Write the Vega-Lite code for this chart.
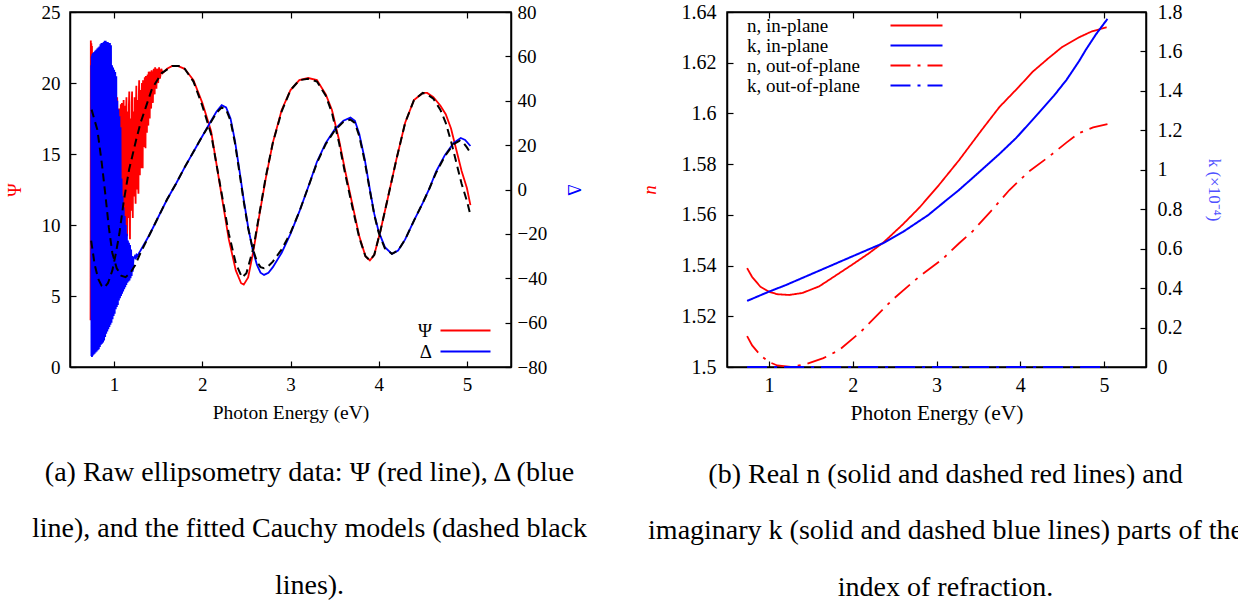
{
"$schema": "https://vega.github.io/schema/vega-lite/v6.json",
"padding": {"left": 5, "top": 1, "right": 0, "bottom": 0},
"bounds": "flush",
"spacing": 216,
"config": {
  "font": "Liberation Serif",
  "view": {"stroke": "black", "strokeWidth": 1.5},
  "axis": {"grid": false, "domainColor": "black", "domainWidth": 1.5, "tickColor": "black", "tickWidth": 1.2, "tickSize": -6, "labelColor": "black", "labelFont": "Liberation Serif", "titleFont": "Liberation Serif", "titleFontWeight": "normal", "titleColor": "black"},
  "legend": {"labelFont": "Liberation Serif", "labelColor": "black"},
  "title": {"font": "Liberation Serif", "fontWeight": "normal", "color": "black"}
},
"resolve": {"scale": {"color": "independent", "strokeDash": "independent"}, "legend": {"color": "independent", "strokeDash": "independent"}},
"datasets": {
"psi": [
{"E":0.733,"psi":3.3},{"E":0.736,"psi":23.0},{"E":0.739,"psi":4.2},{"E":0.742,"psi":22.8},{"E":0.745,"psi":5.0},{"E":0.749,"psi":22.6},{"E":0.754,"psi":6.0},{"E":0.76,"psi":22.0},{"E":0.78,"psi":7.0},{"E":0.80,"psi":21.5},{"E":0.83,"psi":6.5},{"E":0.86,"psi":20.5},{"E":0.89,"psi":7.5},{"E":0.92,"psi":20.0},{"E":0.95,"psi":8.0},{"E":0.98,"psi":19.5},{"E":1.01,"psi":8.5},{"E":1.035,"psi":19.0},{"E":1.05,"psi":8.8},
{"E":1.056,"psi":18.2},{"E":1.060,"psi":9.5},{"E":1.064,"psi":18.0},{"E":1.068,"psi":9.0},{"E":1.072,"psi":17.2},{"E":1.076,"psi":18.5},{"E":1.080,"psi":10.0},{"E":1.084,"psi":8.8},{"E":1.088,"psi":18.6},{"E":1.092,"psi":17.5},{"E":1.096,"psi":10.5},{"E":1.100,"psi":9.5},{"E":1.104,"psi":17.8},{"E":1.108,"psi":18.8},{"E":1.112,"psi":11.0},{"E":1.116,"psi":9.0},{"E":1.120,"psi":18.4},{"E":1.124,"psi":17.0},{"E":1.128,"psi":10.2},{"E":1.132,"psi":10.0},{"E":1.136,"psi":18.0},{"E":1.140,"psi":19.0},{"E":1.144,"psi":11.5},{"E":1.148,"psi":9.2},{"E":1.152,"psi":17.0},{"E":1.156,"psi":18.0},{"E":1.160,"psi":12.0},{"E":1.164,"psi":10.5},{"E":1.168,"psi":18.5},{"E":1.172,"psi":19.4},{"E":1.176,"psi":11.0},{"E":1.180,"psi":9.0},{"E":1.184,"psi":16.5},{"E":1.188,"psi":17.5},{"E":1.192,"psi":12.5},{"E":1.196,"psi":11.0},{"E":1.200,"psi":18.6},{"E":1.204,"psi":19.4},{"E":1.208,"psi":12.0},{"E":1.212,"psi":10.5},{"E":1.216,"psi":17.0},{"E":1.220,"psi":18.0},{"E":1.224,"psi":13.0},{"E":1.228,"psi":12.0},{"E":1.232,"psi":19.0},{"E":1.236,"psi":18.5},{"E":1.240,"psi":12.8},{"E":1.244,"psi":11.5},{"E":1.248,"psi":18.2},{"E":1.252,"psi":19.8},{"E":1.256,"psi":13.5},{"E":1.260,"psi":12.5},{"E":1.264,"psi":18.8},{"E":1.268,"psi":17.5},{"E":1.272,"psi":13.0},{"E":1.276,"psi":12.2},{"E":1.280,"psi":19.0},{"E":1.284,"psi":20.2},{"E":1.288,"psi":14.2},{"E":1.292,"psi":13.5},{"E":1.296,"psi":19.5},{"E":1.300,"psi":19.0},{"E":1.304,"psi":14.0},{"E":1.308,"psi":14.5},{"E":1.312,"psi":19.2},{"E":1.316,"psi":20.0},{"E":1.320,"psi":15.0},{"E":1.324,"psi":14.0},{"E":1.328,"psi":20.2},{"E":1.332,"psi":19.5},{"E":1.336,"psi":15.8},{"E":1.340,"psi":15.5},{"E":1.344,"psi":19.8},{"E":1.348,"psi":20.4},{"E":1.352,"psi":16.0},{"E":1.356,"psi":15.4},{"E":1.360,"psi":20.5},{"E":1.364,"psi":19.8},{"E":1.368,"psi":16.8},{"E":1.372,"psi":16.5},{"E":1.376,"psi":20.2},{"E":1.380,"psi":20.6},{"E":1.384,"psi":17.4},{"E":1.388,"psi":17.0},{"E":1.392,"psi":20.8},{"E":1.396,"psi":20.3},{"E":1.400,"psi":17.8},{"E":1.404,"psi":17.5},{"E":1.408,"psi":20.4},{"E":1.412,"psi":20.8},{"E":1.416,"psi":18.5},{"E":1.420,"psi":18.2},{"E":1.425,"psi":20.9},{"E":1.430,"psi":20.5},{"E":1.435,"psi":18.9},{"E":1.440,"psi":18.6},{"E":1.445,"psi":20.6},{"E":1.450,"psi":21.0},{"E":1.455,"psi":19.5},{"E":1.460,"psi":19.2},{"E":1.465,"psi":21.1},{"E":1.470,"psi":20.8},{"E":1.475,"psi":19.8},{"E":1.480,"psi":19.6},{"E":1.485,"psi":20.9},{"E":1.490,"psi":21.0},{"E":1.495,"psi":20.2},{"E":1.500,"psi":20.0},{"E":1.510,"psi":21.1},{"E":1.520,"psi":20.3},{"E":1.535,"psi":21.0},{"E":1.550,"psi":20.7},
{"E":1.60,"psi":21.0},{"E":1.66,"psi":21.2},{"E":1.72,"psi":21.2},{"E":1.80,"psi":21.0},{"E":1.90,"psi":20.2},{"E":2.00,"psi":18.6},{"E":2.10,"psi":16.6},{"E":2.20,"psi":12.8},{"E":2.30,"psi":9.0},{"E":2.38,"psi":6.8},{"E":2.44,"psi":5.9},{"E":2.47,"psi":5.8},{"E":2.52,"psi":6.3},{"E":2.58,"psi":8.2},{"E":2.65,"psi":10.8},{"E":2.72,"psi":13.3},{"E":2.80,"psi":15.8},{"E":2.90,"psi":18.1},{"E":3.00,"psi":19.5},{"E":3.10,"psi":20.2},{"E":3.20,"psi":20.35},{"E":3.30,"psi":20.2},{"E":3.40,"psi":19.2},{"E":3.47,"psi":18.1},{"E":3.55,"psi":16.0},{"E":3.62,"psi":13.8},{"E":3.70,"psi":11.5},{"E":3.78,"psi":9.2},{"E":3.85,"psi":7.8},{"E":3.90,"psi":7.5},{"E":3.95,"psi":7.9},{"E":4.02,"psi":9.6},{"E":4.10,"psi":11.8},{"E":4.20,"psi":14.6},{"E":4.30,"psi":17.2},{"E":4.40,"psi":18.8},{"E":4.50,"psi":19.3},{"E":4.55,"psi":19.3},{"E":4.62,"psi":19.0},{"E":4.70,"psi":18.4},{"E":4.76,"psi":17.8},{"E":4.82,"psi":16.8},{"E":4.88,"psi":15.3},{"E":4.94,"psi":13.8},{"E":5.00,"psi":12.6},{"E":5.04,"psi":11.4}
],
"psifit": [
{"E":0.74,"psi":8.9},{"E":0.78,"psi":7.2},{"E":0.82,"psi":6.2},{"E":0.86,"psi":5.7},{"E":0.89,"psi":5.6},{"E":0.93,"psi":5.9},{"E":0.98,"psi":6.8},{"E":1.02,"psi":8.0},{"E":1.06,"psi":9.4},{"E":1.11,"psi":11.7},{"E":1.17,"psi":13.9},{"E":1.25,"psi":16.0},{"E":1.30,"psi":17.2},{"E":1.36,"psi":18.3},{"E":1.43,"psi":19.6},{"E":1.54,"psi":20.7},{"E":1.66,"psi":21.2},{"E":1.75,"psi":21.2},{"E":1.80,"psi":21.0},{"E":1.90,"psi":20.1},{"E":2.00,"psi":18.4},{"E":2.10,"psi":16.4},{"E":2.20,"psi":12.9},{"E":2.30,"psi":9.4},{"E":2.38,"psi":7.3},{"E":2.45,"psi":6.3},{"E":2.50,"psi":6.6},{"E":2.58,"psi":8.4},{"E":2.65,"psi":10.9},{"E":2.72,"psi":13.4},{"E":2.80,"psi":15.8},{"E":2.90,"psi":18.0},{"E":3.00,"psi":19.5},{"E":3.10,"psi":20.2},{"E":3.20,"psi":20.3},{"E":3.30,"psi":20.1},{"E":3.40,"psi":19.1},{"E":3.47,"psi":17.9},{"E":3.55,"psi":15.8},{"E":3.62,"psi":13.6},{"E":3.70,"psi":11.3},{"E":3.78,"psi":9.1},{"E":3.85,"psi":7.8},{"E":3.90,"psi":7.5},{"E":3.95,"psi":7.9},{"E":4.02,"psi":9.6},{"E":4.10,"psi":11.8},{"E":4.20,"psi":14.6},{"E":4.30,"psi":17.2},{"E":4.40,"psi":18.8},{"E":4.50,"psi":19.3},{"E":4.55,"psi":19.2},{"E":4.62,"psi":18.9},{"E":4.70,"psi":18.1},{"E":4.76,"psi":17.2},{"E":4.82,"psi":15.9},{"E":4.88,"psi":14.4},{"E":4.94,"psi":12.9},{"E":5.00,"psi":11.7},{"E":5.04,"psi":10.7}
],
"delta": [
{"E":0.740,"delta":56},{"E":0.743,"delta":-75},{"E":0.746,"delta":60},{"E":0.749,"delta":-75.5},{"E":0.752,"delta":61},{"E":0.755,"delta":-75},{"E":0.761,"delta":61.5},{"E":0.767,"delta":-74.5},{"E":0.773,"delta":62},{"E":0.779,"delta":-74},{"E":0.785,"delta":62.5},{"E":0.791,"delta":-73.5},{"E":0.797,"delta":63},{"E":0.803,"delta":-73},{"E":0.809,"delta":63.5},{"E":0.815,"delta":-72.5},{"E":0.821,"delta":64},{"E":0.827,"delta":-72},{"E":0.833,"delta":64.5},{"E":0.839,"delta":-71},{"E":0.845,"delta":65.5},{"E":0.851,"delta":-70},{"E":0.857,"delta":66},{"E":0.863,"delta":-69.5},{"E":0.869,"delta":66},{"E":0.875,"delta":-69},{"E":0.881,"delta":66.5},{"E":0.887,"delta":-68},{"E":0.893,"delta":67},{"E":0.899,"delta":-66.5},{"E":0.905,"delta":67},{"E":0.911,"delta":-65},{"E":0.917,"delta":66.5},{"E":0.923,"delta":-64},{"E":0.929,"delta":66.5},{"E":0.935,"delta":-63},{"E":0.941,"delta":66},{"E":0.947,"delta":-62},{"E":0.953,"delta":66},{"E":0.959,"delta":-61},{"E":0.965,"delta":65},{"E":0.971,"delta":-60},{"E":0.977,"delta":56},{"E":0.983,"delta":-58.5},{"E":0.989,"delta":55},{"E":0.995,"delta":-57},{"E":1.001,"delta":54},{"E":1.007,"delta":-56},{"E":1.013,"delta":53},{"E":1.019,"delta":-54},{"E":1.025,"delta":51},{"E":1.031,"delta":-53},{"E":1.037,"delta":40},{"E":1.043,"delta":-52},{"E":1.049,"delta":36},{"E":1.055,"delta":-50},{"E":1.061,"delta":33},{"E":1.067,"delta":-49},{"E":1.073,"delta":28},{"E":1.079,"delta":-48},{"E":1.085,"delta":5},{"E":1.091,"delta":-47},{"E":1.097,"delta":-3},{"E":1.103,"delta":-46},{"E":1.109,"delta":-8},{"E":1.115,"delta":-45},{"E":1.121,"delta":-12},{"E":1.127,"delta":-44},{"E":1.133,"delta":-16},{"E":1.139,"delta":-43},{"E":1.145,"delta":-20},{"E":1.151,"delta":-42},{"E":1.157,"delta":-23},{"E":1.163,"delta":-41.5},{"E":1.169,"delta":-24},{"E":1.175,"delta":-41},{"E":1.181,"delta":-25},{"E":1.187,"delta":-40},{"E":1.193,"delta":-27},{"E":1.199,"delta":-39},{"E":1.205,"delta":-30},{"E":1.211,"delta":-37},{"E":1.220,"delta":-31},
{"E":1.235,"delta":-30.0},{"E":1.245,"delta":-31.5},{"E":1.255,"delta":-29.5},{"E":1.265,"delta":-30.0},{"E":1.28,"delta":-28.8},{"E":1.30,"delta":-27.5},{"E":1.40,"delta":-20.5},{"E":1.50,"delta":-12.5},{"E":1.60,"delta":-4.5},{"E":1.70,"delta":2.5},{"E":1.80,"delta":10},{"E":1.90,"delta":17},{"E":2.00,"delta":24},{"E":2.10,"delta":31},{"E":2.16,"delta":35},{"E":2.22,"delta":38},{"E":2.27,"delta":37},{"E":2.32,"delta":32},{"E":2.37,"delta":22},{"E":2.42,"delta":9},{"E":2.47,"delta":-4.7},{"E":2.52,"delta":-17},{"E":2.57,"delta":-27},{"E":2.62,"delta":-34},{"E":2.66,"delta":-37.5},{"E":2.70,"delta":-38.5},{"E":2.75,"delta":-37.5},{"E":2.80,"delta":-35},{"E":2.90,"delta":-28.5},{"E":3.00,"delta":-20},{"E":3.10,"delta":-10},{"E":3.20,"delta":1},{"E":3.30,"delta":12.5},{"E":3.40,"delta":21},{"E":3.50,"delta":27},{"E":3.60,"delta":31},{"E":3.68,"delta":32.4},{"E":3.73,"delta":31},{"E":3.78,"delta":25},{"E":3.84,"delta":14},{"E":3.90,"delta":0},{"E":3.95,"delta":-11},{"E":4.00,"delta":-19},{"E":4.07,"delta":-26},{"E":4.15,"delta":-29},{"E":4.22,"delta":-27.5},{"E":4.30,"delta":-22.5},{"E":4.40,"delta":-14},{"E":4.50,"delta":-6},{"E":4.57,"delta":0},{"E":4.65,"delta":8},{"E":4.75,"delta":15.5},{"E":4.85,"delta":21},{"E":4.93,"delta":23.2},{"E":4.98,"delta":22.3},{"E":5.04,"delta":19.6}
],
"deltafit": [
{"E":0.745,"delta":36},{"E":0.78,"delta":31},{"E":0.81,"delta":27},{"E":0.86,"delta":12},{"E":0.90,"delta":-2},{"E":0.94,"delta":-17},{"E":0.98,"delta":-28.6},{"E":1.03,"delta":-35.5},{"E":1.08,"delta":-38.8},{"E":1.13,"delta":-39.5},{"E":1.18,"delta":-37.8},{"E":1.24,"delta":-34},{"E":1.30,"delta":-28.5},{"E":1.40,"delta":-20.5},{"E":1.50,"delta":-12.5},{"E":1.60,"delta":-4.5},{"E":1.70,"delta":2.5},{"E":1.80,"delta":10},{"E":1.90,"delta":17},{"E":2.00,"delta":24},{"E":2.10,"delta":30.5},{"E":2.16,"delta":34.5},{"E":2.22,"delta":37},{"E":2.27,"delta":36},{"E":2.32,"delta":31},{"E":2.37,"delta":21},{"E":2.42,"delta":8},{"E":2.47,"delta":-5.5},{"E":2.52,"delta":-17.5},{"E":2.57,"delta":-26.5},{"E":2.62,"delta":-32.5},{"E":2.66,"delta":-35},{"E":2.70,"delta":-35.5},{"E":2.75,"delta":-34.5},{"E":2.80,"delta":-32.5},{"E":2.90,"delta":-27},{"E":3.00,"delta":-19.5},{"E":3.10,"delta":-10},{"E":3.20,"delta":1},{"E":3.30,"delta":12},{"E":3.40,"delta":20.5},{"E":3.50,"delta":26.5},{"E":3.60,"delta":30.5},{"E":3.68,"delta":31.5},{"E":3.73,"delta":30},{"E":3.78,"delta":24},{"E":3.84,"delta":13},{"E":3.90,"delta":-0.5},{"E":3.95,"delta":-11.5},{"E":4.00,"delta":-19.5},{"E":4.07,"delta":-26.5},{"E":4.15,"delta":-29},{"E":4.22,"delta":-27.5},{"E":4.30,"delta":-22.5},{"E":4.40,"delta":-14},{"E":4.50,"delta":-6},{"E":4.57,"delta":0},{"E":4.65,"delta":7.5},{"E":4.75,"delta":15},{"E":4.85,"delta":20.5},{"E":4.92,"delta":22},{"E":4.96,"delta":21},{"E":5.00,"delta":19},{"E":5.04,"delta":16.5}
],
"nvals": [
{"E":0.74,"n":1.539,"series":"n, in-plane"},{"E":0.80,"n":1.5355,"series":"n, in-plane"},{"E":0.90,"n":1.5316,"series":"n, in-plane"},{"E":1.00,"n":1.5297,"series":"n, in-plane"},{"E":1.10,"n":1.5287,"series":"n, in-plane"},{"E":1.24,"n":1.5284,"series":"n, in-plane"},{"E":1.40,"n":1.5292,"series":"n, in-plane"},{"E":1.60,"n":1.5318,"series":"n, in-plane"},{"E":1.84,"n":1.537,"series":"n, in-plane"},{"E":2.00,"n":1.5405,"series":"n, in-plane"},{"E":2.20,"n":1.545,"series":"n, in-plane"},{"E":2.37,"n":1.5492,"series":"n, in-plane"},{"E":2.60,"n":1.5563,"series":"n, in-plane"},{"E":2.80,"n":1.563,"series":"n, in-plane"},{"E":3.03,"n":1.5718,"series":"n, in-plane"},{"E":3.27,"n":1.5816,"series":"n, in-plane"},{"E":3.54,"n":1.5935,"series":"n, in-plane"},{"E":3.75,"n":1.6025,"series":"n, in-plane"},{"E":3.98,"n":1.6104,"series":"n, in-plane"},{"E":4.15,"n":1.6165,"series":"n, in-plane"},{"E":4.34,"n":1.6219,"series":"n, in-plane"},{"E":4.50,"n":1.6262,"series":"n, in-plane"},{"E":4.70,"n":1.63,"series":"n, in-plane"},{"E":4.85,"n":1.6323,"series":"n, in-plane"},{"E":5.03,"n":1.634,"series":"n, in-plane"},
{"E":0.74,"n":1.5122,"series":"n, out-of-plane"},{"E":0.80,"n":1.5085,"series":"n, out-of-plane"},{"E":0.90,"n":1.5046,"series":"n, out-of-plane"},{"E":1.00,"n":1.502,"series":"n, out-of-plane"},{"E":1.10,"n":1.5006,"series":"n, out-of-plane"},{"E":1.27,"n":1.5,"series":"n, out-of-plane"},{"E":1.45,"n":1.5012,"series":"n, out-of-plane"},{"E":1.65,"n":1.5035,"series":"n, out-of-plane"},{"E":1.84,"n":1.5067,"series":"n, out-of-plane"},{"E":2.10,"n":1.514,"series":"n, out-of-plane"},{"E":2.47,"n":1.5264,"series":"n, out-of-plane"},{"E":2.80,"n":1.5358,"series":"n, out-of-plane"},{"E":3.07,"n":1.5425,"series":"n, out-of-plane"},{"E":3.27,"n":1.5488,"series":"n, out-of-plane"},{"E":3.43,"n":1.5535,"series":"n, out-of-plane"},{"E":3.65,"n":1.5615,"series":"n, out-of-plane"},{"E":3.87,"n":1.5698,"series":"n, out-of-plane"},{"E":4.10,"n":1.577,"series":"n, out-of-plane"},{"E":4.34,"n":1.5829,"series":"n, out-of-plane"},{"E":4.55,"n":1.5885,"series":"n, out-of-plane"},{"E":4.70,"n":1.5922,"series":"n, out-of-plane"},{"E":4.87,"n":1.5945,"series":"n, out-of-plane"},{"E":5.04,"n":1.5958,"series":"n, out-of-plane"}
],
"kvals": [
{"E":0.74,"k":0.335,"series":"k, in-plane"},{"E":1.00,"k":0.382,"series":"k, in-plane"},{"E":1.20,"k":0.415,"series":"k, in-plane"},{"E":1.50,"k":0.47,"series":"k, in-plane"},{"E":1.80,"k":0.525,"series":"k, in-plane"},{"E":2.10,"k":0.58,"series":"k, in-plane"},{"E":2.37,"k":0.629,"series":"k, in-plane"},{"E":2.60,"k":0.685,"series":"k, in-plane"},{"E":2.90,"k":0.77,"series":"k, in-plane"},{"E":3.15,"k":0.857,"series":"k, in-plane"},{"E":3.27,"k":0.898,"series":"k, in-plane"},{"E":3.54,"k":1.0,"series":"k, in-plane"},{"E":3.75,"k":1.08,"series":"k, in-plane"},{"E":3.95,"k":1.161,"series":"k, in-plane"},{"E":4.22,"k":1.288,"series":"k, in-plane"},{"E":4.40,"k":1.375,"series":"k, in-plane"},{"E":4.55,"k":1.455,"series":"k, in-plane"},{"E":4.70,"k":1.55,"series":"k, in-plane"},{"E":4.78,"k":1.607,"series":"k, in-plane"},{"E":4.90,"k":1.685,"series":"k, in-plane"},{"E":5.04,"k":1.765,"series":"k, in-plane"},
{"E":0.74,"k":0,"series":"k, out-of-plane"},{"E":2.0,"k":0,"series":"k, out-of-plane"},{"E":3.5,"k":0,"series":"k, out-of-plane"},{"E":5.04,"k":0,"series":"k, out-of-plane"}
]
},
"hconcat": [
{
  "width": 441, "height": 355,
  "title": {"text": ["(a) Raw ellipsometry data: Ψ (red line), Δ (blue", "line), and the fitted Cauchy models (dashed black", "lines)."], "orient": "bottom", "anchor": "middle", "frame": "group", "fontSize": 28, "lineHeight": 56.5, "offset": 37, "dx": 19},
  "layer": [
    {"data": {"name": "psi"}, "mark": {"type": "line", "strokeWidth": 1.8},
     "encoding": {
       "x": {"field": "E", "type": "quantitative", "scale": {"domain": [0.5, 5.5]}, "axis": {"values": [1, 2, 3, 4, 5], "title": "Photon Energy (eV)", "labelFontSize": 19, "titleFontSize": 19.5, "labelPadding": 14, "titlePadding": 9}},
       "y": {"field": "psi", "type": "quantitative", "scale": {"domain": [0, 25]}, "axis": {"values": [0, 5, 10, 15, 20, 25], "title": "Ψ", "titleColor": "#ff0000", "labelFontSize": 19, "titleFontSize": 18, "labelPadding": 16, "titlePadding": 17}},
       "color": {"datum": "Ψ", "type": "nominal", "scale": {"domain": ["Ψ", "Δ"], "range": ["#ff0000", "#0000ff"]},
         "legend": {"orient": "none", "legendX": 386, "legendY": 309, "title": null, "symbolType": "M-5,0H5", "symbolSize": 100, "symbolStrokeWidth": 2, "labelAlign": "right", "labelOffset": -43, "labelFontSize": 19, "padding": 0, "rowPadding": 1}}
     }},
    {"data": {"name": "delta"}, "mark": {"type": "line", "strokeWidth": 1.8},
     "encoding": {
       "x": {"field": "E", "type": "quantitative", "axis": {"orient": "top", "values": [1, 2, 3, 4, 5], "labels": false, "title": null}},
       "y": {"field": "delta", "type": "quantitative", "scale": {"domain": [-80, 80]}, "axis": {"orient": "right", "values": [-80, -60, -40, -20, 0, 20, 40, 60, 80], "title": "Δ", "titleColor": "#0000ff", "labelFontSize": 19, "titleFontSize": 18, "labelPadding": 12, "titlePadding": 17}},
       "color": {"datum": "Δ", "type": "nominal"}
     }},
    {"data": {"name": "psifit"}, "mark": {"type": "line", "color": "black", "strokeDash": [8, 5], "strokeWidth": 2},
     "encoding": {
       "x": {"field": "E", "type": "quantitative", "axis": null},
       "y": {"field": "psi", "type": "quantitative", "scale": {"domain": [0, 25]}, "axis": null}
     }},
    {"data": {"name": "deltafit"}, "mark": {"type": "line", "color": "black", "strokeDash": [8, 5], "strokeWidth": 2},
     "encoding": {
       "x": {"field": "E", "type": "quantitative", "axis": null},
       "y": {"field": "delta", "type": "quantitative", "scale": {"domain": [-80, 80]}, "axis": null}
     }}
  ],
  "resolve": {"scale": {"y": "independent"}, "axis": {"x": "independent"}}
},
{
  "width": 419, "height": 355,
  "title": {"text": ["(b) Real n (solid and dashed red lines) and", "imaginary k (solid and dashed blue lines) parts of the", "index of refraction."], "orient": "bottom", "anchor": "middle", "frame": "group", "fontSize": 28, "lineHeight": 56.5, "offset": 37, "dx": 9},
  "layer": [
    {"data": {"name": "nvals"}, "mark": {"type": "line", "strokeWidth": 1.8},
     "encoding": {
       "x": {"field": "E", "type": "quantitative", "scale": {"domain": [0.5, 5.5]}, "axis": {"values": [1, 2, 3, 4, 5], "title": "Photon Energy (eV)", "labelFontSize": 20, "titleFontSize": 21.5, "labelPadding": 14, "titlePadding": 7}},
       "y": {"field": "n", "type": "quantitative", "scale": {"domain": [1.5, 1.64]}, "axis": {"values": [1.5, 1.52, 1.54, 1.56, 1.58, 1.6, 1.62, 1.64], "format": "~g", "title": "n", "titleFontStyle": "italic", "titleColor": "#ff0000", "labelFontSize": 20, "titleFontSize": 19, "labelPadding": 17, "titlePadding": 22}},
       "color": {"field": "series", "type": "nominal", "scale": {"domain": ["n, in-plane", "k, in-plane", "n, out-of-plane", "k, out-of-plane"], "range": ["#ff0000", "#0000ff", "#ff0000", "#0000ff"]},
         "legend": {"orient": "none", "legendX": 180, "legendY": 4, "title": null, "symbolType": "M-5.2,0H5.2", "symbolSize": 100, "symbolStrokeWidth": 2, "labelAlign": "left", "labelOffset": -179, "labelFontSize": 19, "padding": 0, "rowPadding": -2}},
       "strokeDash": {"field": "series", "type": "nominal", "scale": {"domain": ["n, in-plane", "k, in-plane", "n, out-of-plane", "k, out-of-plane"], "range": [[1, 0], [1, 0], [20, 7, 3, 7], [20, 7, 3, 7]]},
         "legend": {"orient": "none", "legendX": 180, "legendY": 4, "title": null, "symbolType": "M-5.2,0H5.2", "symbolSize": 100, "symbolStrokeWidth": 2, "labelAlign": "left", "labelOffset": -179, "labelFontSize": 19, "padding": 0, "rowPadding": -2}}
     }},
    {"data": {"name": "kvals"}, "mark": {"type": "line", "strokeWidth": 2},
     "encoding": {
       "x": {"field": "E", "type": "quantitative", "axis": {"orient": "top", "values": [1, 2, 3, 4, 5], "labels": false, "title": null}},
       "y": {"field": "k", "type": "quantitative", "scale": {"domain": [0, 1.8]}, "axis": {"orient": "right", "values": [0, 0.2, 0.4, 0.6, 0.8, 1, 1.2, 1.4, 1.6, 1.8], "format": "~g", "title": "k (×10⁻⁴)", "titleColor": "#5050ff", "labelFontSize": 20, "titleFontSize": 17, "labelPadding": 17, "titlePadding": 22}},
       "color": {"field": "series", "type": "nominal"},
       "strokeDash": {"field": "series", "type": "nominal"}
     }}
  ],
  "resolve": {"scale": {"y": "independent"}, "axis": {"x": "independent"}}
}
]
}
